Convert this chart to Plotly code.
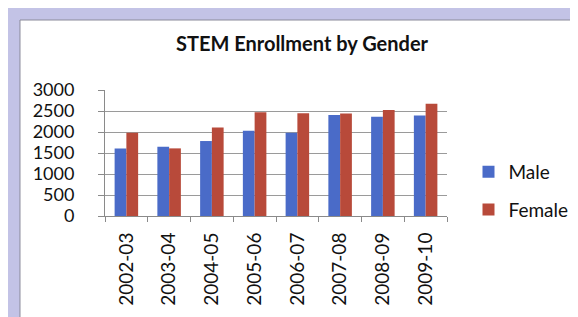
import plotly.graph_objects as go

categories = ["2002-03", "2003-04", "2004-05", "2005-06", "2006-07", "2007-08", "2008-09", "2009-10"]
male = [1610, 1650, 1785, 2030, 1985, 2405, 2365, 2390]
female = [1985, 1610, 2110, 2470, 2445, 2440, 2525, 2675]
y_ticks = [0, 500, 1000, 1500, 2000, 2500, 3000]

W, H = 578, 317
L, R, T, B = 97, 447, 82, 208  # plot area pixel box

def px(x):
    return (x - L) / (R - L)

def py(y):
    return (B - y) / (B - T)

fig = go.Figure()
fig.add_trace(go.Bar(name="Male", x=categories, y=male, legendgroup="m",
                     marker=dict(color="#4A6BC8", line=dict(width=0))))
fig.add_trace(go.Bar(name="Female", x=categories, y=female, legendgroup="f",
                     marker=dict(color="#B84A3A", line=dict(width=0))))

font = "Lato, 'Open Sans', sans-serif"
fig.update_layout(
    width=W, height=H,
    margin=dict(l=L, r=W - R, t=T, b=H - B, pad=0),
    paper_bgcolor="#C3C3E6",
    plot_bgcolor="white",
    barmode="group", bargap=0.45, bargroupgap=0,
    font=dict(family=font, size=18, color="#111111"),
    title=dict(text="<b>STEM Enrollment by Gender</b>", x=294 / W, xanchor="center",
               y=1 - 36 / H, yanchor="middle", font=dict(size=20, color="#111111")),
    showlegend=True,
    legend=dict(x=px(469), y=py(145), xanchor="left", yanchor="top",
                bgcolor="rgba(0,0,0,0)", font=dict(size=19), itemsizing="constant",
                tracegroupgap=10),
    shapes=[
        dict(type="rect", xref="paper", yref="paper", x0=px(10), x1=px(W + 5), y0=py(12), y1=py(H + 5),
             fillcolor="white", line=dict(color="#8A8A9A", width=1), layer="below"),
    ],
)
fig.update_xaxes(
    type="category", showgrid=False, showline=True, linecolor="#8A8A8A", linewidth=1,
    ticks="outside", tickson="boundaries", ticklen=5, tickcolor="#8A8A8A",
    tickangle=-90, tickfont=dict(size=19), ticklabelstandoff=8,
)
fig.update_yaxes(
    range=[0, 3000], tickvals=y_ticks, showgrid=True, gridcolor="#9A9A9A", gridwidth=1,
    showline=True, linecolor="#8A8A8A", linewidth=1, ticks="outside", ticklen=6,
    tickcolor="#8A8A8A", tickfont=dict(size=18), zeroline=False, ticklabelstandoff=20,
)
fig.write_html("out.html")
